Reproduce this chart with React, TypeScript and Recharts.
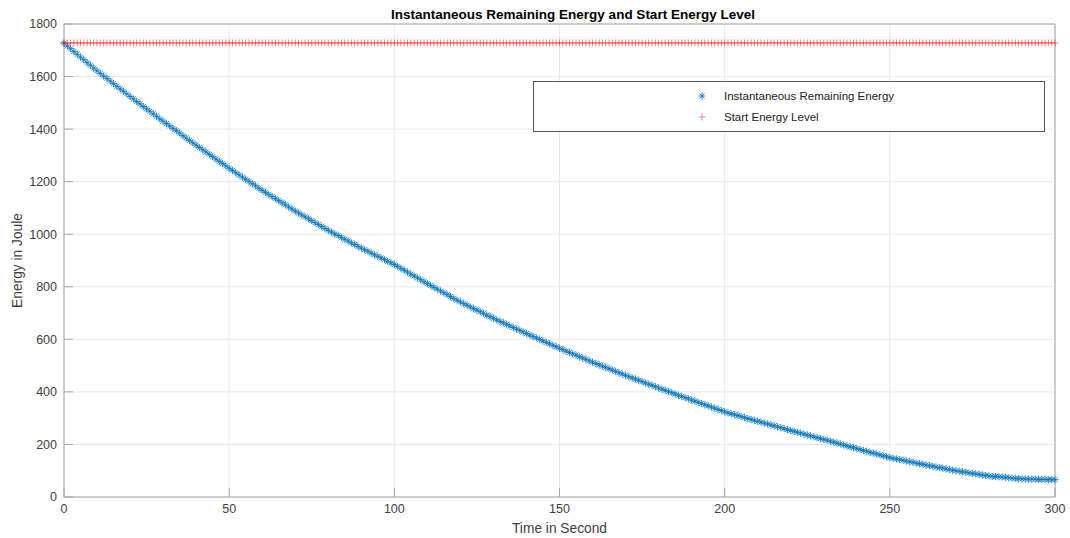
import React from 'react';
import {
  ComposedChart, Line, XAxis, YAxis, CartesianGrid, Legend,
} from 'recharts';

// time stamps, one per second
const timeSeconds: number[] = Array.from({ length: 301 }, (_, i) => i);

// remaining energy (J), one value per second
const remainingEnergy: number[] = [
  1727, 1716, 1706, 1695, 1685, 1674, 1664, 1653, 1643, 1632,
  1622, 1612, 1602, 1593, 1583, 1573, 1563, 1553, 1544, 1534,
  1524, 1515, 1505, 1496, 1486, 1477, 1468, 1458, 1449, 1439,
  1430, 1421, 1412, 1403, 1394, 1385, 1375, 1366, 1357, 1348,
  1339, 1330, 1321, 1313, 1304, 1295, 1286, 1277, 1269, 1260,
  1251, 1243, 1234, 1226, 1217, 1209, 1201, 1192, 1184, 1175,
  1167, 1159, 1151, 1143, 1135, 1128, 1120, 1112, 1104, 1096,
  1088, 1081, 1073, 1066, 1059, 1052, 1044, 1037, 1030, 1022,
  1015, 1008, 1001, 995, 988, 981, 974, 967, 961, 954,
  947, 941, 935, 928, 922, 916, 910, 904, 897, 891,
  885, 878, 870, 863, 856, 848, 841, 834, 827, 819,
  812, 805, 798, 791, 784, 777, 770, 763, 756, 749,
  742, 736, 730, 723, 717, 711, 705, 699, 692, 686,
  680, 674, 668, 663, 657, 651, 645, 639, 634, 628,
  622, 616, 611, 605, 600, 594, 588, 583, 577, 572,
  566, 561, 555, 550, 545, 540, 534, 529, 524, 518,
  513, 508, 503, 498, 493, 488, 483, 478, 473, 468,
  463, 458, 453, 449, 444, 439, 434, 429, 425, 420,
  415, 410, 406, 401, 397, 392, 387, 383, 378, 374,
  369, 365, 360, 356, 351, 347, 342, 338, 333, 329,
  324, 320, 317, 313, 310, 306, 302, 299, 295, 292,
  288, 285, 281, 278, 274, 271, 267, 264, 260, 257,
  253, 250, 246, 243, 239, 236, 233, 229, 226, 222,
  219, 216, 212, 209, 205, 202, 198, 195, 191, 188,
  184, 181, 177, 174, 170, 167, 164, 160, 157, 153,
  150, 147, 145, 142, 140, 137, 134, 132, 129, 127,
  124, 122, 119, 117, 114, 112, 110, 107, 105, 102,
  100, 98, 96, 94, 92, 90, 88, 86, 84, 82,
  80, 79, 78, 77, 76, 75, 73, 72, 71, 70,
  69, 69, 68, 68, 68, 67, 67, 67, 66, 66,
  66,
];

const startEnergyLevel = 1728;

const xTicks = [0, 50, 100, 150, 200, 250, 300];
const yTicks = [0, 200, 400, 600, 800, 1000, 1200, 1400, 1600, 1800];

const data = timeSeconds.map((t, i) => ({
  t,
  remaining: remainingEnergy[i],
  start: startEnergyLevel,
}));

const BLUE = '#0072BD';
const RED = '#FF0000';
const AXIS = '#a6a6a6';
const TEXT = '#404040';
const FONT = '"Liberation Sans", Arial, sans-serif';

const Asterisk = ({ cx, cy, r = 3.6 }: { cx: number; cy: number; r?: number }) => {
  const d = r * 0.707;
  return (
    <g stroke={BLUE} strokeWidth={1} strokeOpacity={0.8}>
      <line x1={cx - r} y1={cy} x2={cx + r} y2={cy} />
      <line x1={cx} y1={cy - r} x2={cx} y2={cy + r} />
      <line x1={cx - d} y1={cy - d} x2={cx + d} y2={cy + d} />
      <line x1={cx - d} y1={cy + d} x2={cx + d} y2={cy - d} />
    </g>
  );
};

const Plus = ({ cx, cy, r = 3.5 }: { cx: number; cy: number; r?: number }) => (
  <g stroke={RED} strokeWidth={0.7} strokeOpacity={0.7}>
    <line x1={cx - r} y1={cy} x2={cx + r} y2={cy} />
    <line x1={cx} y1={cy - r} x2={cx} y2={cy + r} />
  </g>
);

const renderAsterisk = (p: any) => (
  <Asterisk key={`a-${p.index}`} cx={p.cx} cy={p.cy} />
);
const renderPlus = (p: any) => <Plus key={`p-${p.index}`} cx={p.cx} cy={p.cy} />;

const renderLegend = () => (
  <div
    style={{
      width: 512, height: 51, boxSizing: 'border-box', border: '1px solid #555',
      background: '#fff', position: 'relative', fontFamily: FONT, fontSize: 11.5, color: '#222',
    }}
  >
    <svg width={20} height={51} style={{ position: 'absolute', left: 158, top: -1 }}>
      <Asterisk cx={10} cy={15} />
      <Plus cx={10} cy={36} />
    </svg>
    <div style={{ position: 'absolute', left: 190, top: 7, lineHeight: '14px' }}>
      Instantaneous Remaining Energy
    </div>
    <div style={{ position: 'absolute', left: 190, top: 28, lineHeight: '14px' }}>
      Start Energy Level
    </div>
  </div>
);

export default function App() {
  return (
    <div style={{ position: 'absolute', left: 0, top: 0, width: 1070, height: 538, background: '#fff', fontFamily: FONT }}>
      <div
        style={{
          position: 'absolute', left: 573, top: 6, transform: 'translateX(-50%)', whiteSpace: 'nowrap',
          fontWeight: 'bold', fontSize: 13.5, lineHeight: '18px', color: '#000',
        }}
      >
        Instantaneous Remaining Energy and Start Energy Level
      </div>
      <ComposedChart width={1070} height={538} data={data} margin={{ top: 0, right: 0, bottom: 0, left: 0 }}>
        <CartesianGrid stroke="#e8e8e8" strokeWidth={1} />
        <XAxis
          type="number" dataKey="t" domain={[0, 300]} ticks={xTicks} height={41}
          stroke={AXIS} tickSize={-9} tickMargin={16}
          tick={{ fill: TEXT, fontSize: 12.5, fontFamily: FONT }}
          label={{ value: 'Time in Second', position: 'insideBottom', offset: 5, fill: TEXT, fontSize: 13.75, fontFamily: FONT }}
        />
        <XAxis
          xAxisId="top" orientation="top" type="number" dataKey="t" domain={[0, 300]} ticks={xTicks}
          height={24} stroke={AXIS} tickSize={-9} tick={false}
        />
        <YAxis
          type="number" domain={[0, 1800]} ticks={yTicks} width={64}
          stroke={AXIS} tickSize={-9} tickMargin={16}
          tick={{ fill: TEXT, fontSize: 12.5, fontFamily: FONT }}
          label={{ value: 'Energy in Joule', angle: -90, position: 'insideLeft', offset: 17, fill: TEXT, fontSize: 13.75, fontFamily: FONT, style: { textAnchor: 'middle' } }}
        />
        <YAxis
          yAxisId="right" orientation="right" type="number" domain={[0, 1800]} ticks={yTicks}
          width={15} stroke={AXIS} tickSize={-9} tick={false}
        />
        <Line dataKey="remaining" stroke="none" dot={renderAsterisk} activeDot={false} isAnimationActive={false} legendType="none" />
        <Line dataKey="start" xAxisId="top" yAxisId="right" stroke="none" dot={renderPlus} activeDot={false} isAnimationActive={false} legendType="none" />
        <Legend
          content={renderLegend} layout="horizontal" verticalAlign="middle" align="center"
          wrapperStyle={{ position: 'absolute', left: 533, top: 81, width: 512, height: 51 }}
        />
      </ComposedChart>
    </div>
  );
}
